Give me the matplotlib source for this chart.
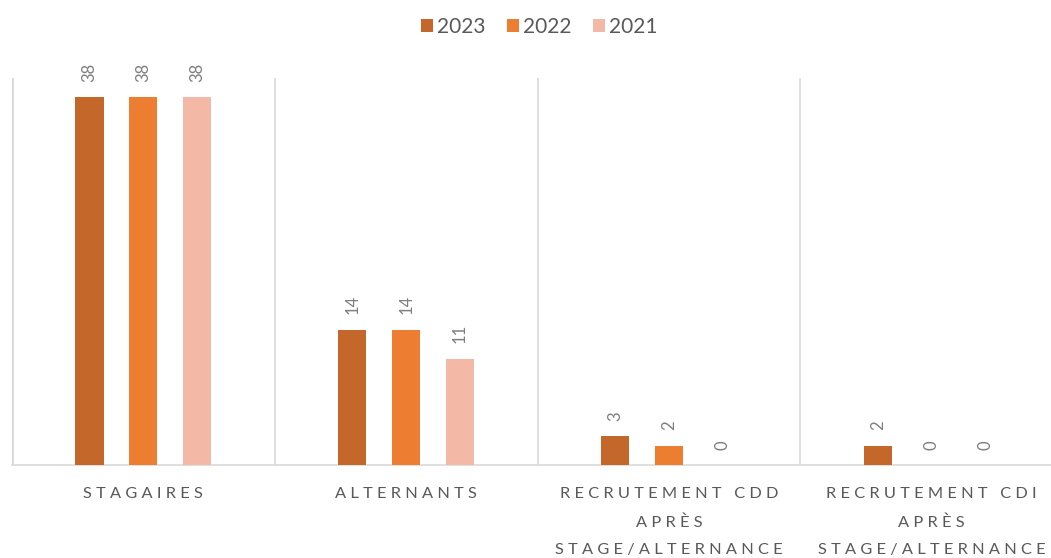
import matplotlib.pyplot as plt
import numpy as np

# Data
categories = ["STAGAIRES", "ALTERNANTS",
              "RECRUTEMENT CDD\nAPRÈS\nSTAGE/ALTERNANCE",
              "RECRUTEMENT CDI\nAPRÈS\nSTAGE/ALTERNANCE"]
years = ["2023", "2022", "2021"]
v2023 = [38, 14, 3, 2]
v2022 = [38, 14, 2, 0]
v2021 = [38, 11, 0, 0]

colors = ["#C4672A", "#ED7D31", "#F4B9A6"]
grey = "#595959"

plt.rcParams['font.family'] = ['Lato', 'DejaVu Sans']


def spaced(s):
    # letter spacing like the original (thin spaces between letters)
    lines = []
    for line in s.split("\n"):
        words = [" ".join(w) for w in line.split(" ")]
        lines.append("   ".join(words))
    return "\n".join(lines)


fig = plt.figure(figsize=(10.51, 5.58), dpi=100)
ax = fig.add_axes([12 / 1051, 93 / 558, 1051 / 1051, 387 / 558])

x = np.arange(len(categories))
width = 0.107
step = 0.205
for i, (vals, yr) in enumerate(zip([v2023, v2022, v2021], years)):
    pos = x + (i - 1) * step
    ax.bar(pos, vals, width, color=colors[i], label=yr, zorder=3)
    for p, v in zip(pos, vals):
        ax.annotate(str(v), (p, v), xytext=(0, 11), textcoords="offset points",
                    rotation=90, ha="center", va="bottom", fontsize=12,
                    color="#7F7F7F")

ax.set_xlim(-0.5, 3.5)
ax.set_ylim(0, 40)
ax.set_yticks([])
ax.set_xticks(x)
ax.set_xticklabels([spaced(c) for c in categories], fontsize=11.8, color=grey)
for lbl in ax.get_xticklabels():
    lbl.set_linespacing(2.2)
ax.tick_params(axis="x", length=0, pad=16)
ax.set_xticks(np.arange(0.5, 3.5, 1.0), minor=True)
ax.tick_params(axis="x", which="minor", length=0)
ax.grid(axis="x", which="minor", color="#D9D9D9", linewidth=1.2)
ax.axvline(-0.5, color="#D9D9D9", linewidth=2)

for s in ["top", "right", "left"]:
    ax.spines[s].set_visible(False)
ax.spines["bottom"].set_color("#D9D9D9")
ax.spines["bottom"].set_linewidth(1.2)

fig.legend(loc="upper center", bbox_to_anchor=(0.513, 1.003), ncol=3, frameon=False,
           fontsize=15, handlelength=0.6, handleheight=0.6, handletextpad=0.2,
           columnspacing=1.0, labelcolor=grey)

plt.savefig("out.png", dpi=100, facecolor="white")
plt.close()
